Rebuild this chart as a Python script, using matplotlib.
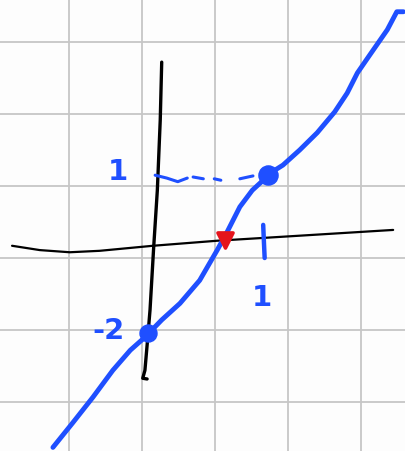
import numpy as np
import matplotlib.pyplot as plt

# sketch strokes, in grid units (one square = 1)
curve_x = [-1.22, -0.95, -0.67, -0.40, -0.16, 0.04, 0.27, 0.52, 0.79, 1.03, 1.16,
           1.34, 1.51, 1.66, 1.82, 1.93, 2.16, 2.40, 2.64, 2.81, 2.95, 3.12, 3.36, 3.49, 3.58]
curve_y = [-2.63, -2.29, -1.93, -1.56, -1.28, -1.10, -0.86, -0.63, -0.31, 0.11, 0.35,
           0.71, 0.94, 1.08, 1.22, 1.29, 1.50, 1.74, 2.03, 2.29, 2.57, 2.82, 3.17, 3.42, 3.42]

yaxis_x = [0.27, 0.25, 0.21, 0.16, 0.11, 0.07, 0.04, 0.01, 0.07]
yaxis_y = [2.72, 1.92, 0.94, 0.15, -0.72, -1.21, -1.56, -1.67, -1.68]

xaxis_x = [-1.78, -1.40, -0.99, -0.58, 0.15, 1.03, 2.16, 3.44]
xaxis_y = [0.17, 0.11, 0.08, 0.10, 0.17, 0.24, 0.31, 0.39]

# dashed guide from the y-axis to the point on the curve
dash_x = [[0.18, 0.34, 0.49, 0.62], [0.70, 0.84], [0.99, 1.08], [1.34, 1.52]]
dash_y = [[1.15, 1.11, 1.06, 1.11], [1.125, 1.10], [1.10, 1.08], [1.10, 1.14]]

tick_x = [1.66, 1.67, 1.68]
tick_y = [0.46, 0.22, 0.0]

blue_pts_x = [1.73, 0.08]
blue_pts_y = [1.15, -1.04]
red_pt = (1.14, 0.25)

labels = ["1", "-2", "1"]
label_x = [-0.33, -0.46, 1.64]
label_y = [1.19, -1.02, -0.56]

blue = '#1f4fff'

fig = plt.figure(figsize=(4.06, 4.51), dpi=100)
ax = fig.add_axes([0, 0, 1, 1])
ax.set_xlim(-1.945, 3.616)
ax.set_ylim(-2.68, 3.583)
ax.axis('off')
fig.patch.set_facecolor('#fdfdfd')

# grid paper
for gx in range(-1, 4):
    ax.axvline(gx, color='#c6c6c6', lw=1.3, zorder=0)
for gy in range(-2, 4):
    ax.axhline(gy, color='#c6c6c6', lw=1.3, zorder=0)

ax.plot(yaxis_x, yaxis_y, color='black', lw=2.4, solid_capstyle='round', zorder=2)
ax.plot(xaxis_x, xaxis_y, color='black', lw=1.6, solid_capstyle='round', zorder=2)

for dx, dy in zip(dash_x, dash_y):
    ax.plot(dx, dy, color=blue, lw=2.2, solid_capstyle='round', zorder=3)
ax.plot(tick_x, tick_y, color=blue, lw=3.2, solid_capstyle='round', zorder=3)

ax.plot(curve_x, curve_y, color=blue, lw=3.5, solid_capstyle='round',
        solid_joinstyle='round', zorder=4)

ax.scatter(blue_pts_x[:1], blue_pts_y[:1], s=190, color=blue, marker='o', zorder=5)
ax.scatter(blue_pts_x[1:], blue_pts_y[1:], s=150, color=blue, marker='o', zorder=5)
ax.scatter([red_pt[0]], [red_pt[1]], s=120, color='#e5141c', marker='v',
           edgecolors='#e5141c', linewidths=2.5, zorder=6)

for t, lx, ly in zip(labels, label_x, label_y):
    ax.text(lx, ly, t, color=blue, fontsize=21, fontweight='bold', ha='center',
            va='center', zorder=5)

fig.savefig('out.png', dpi=100)
